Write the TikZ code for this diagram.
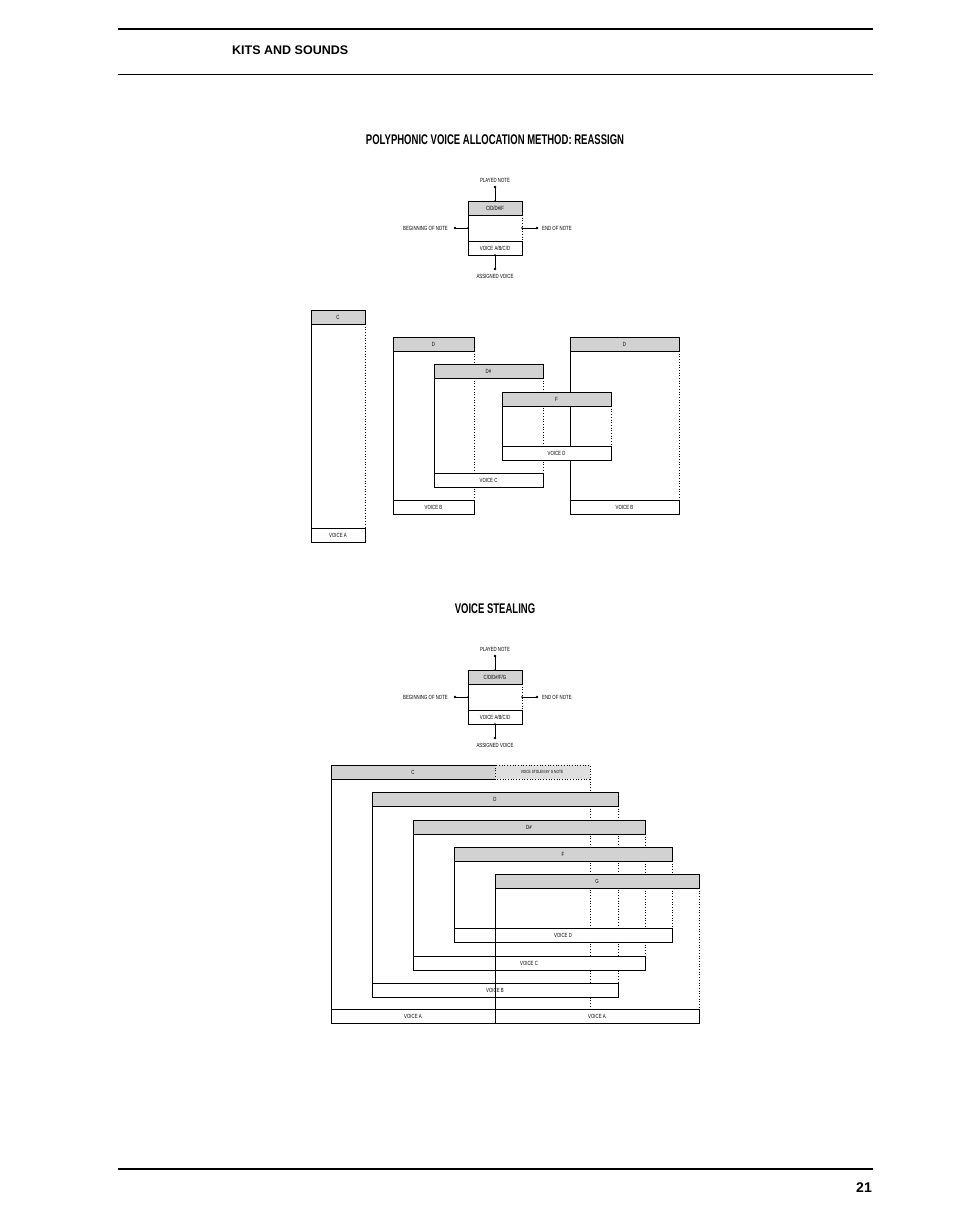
\documentclass[tikz,border=0pt]{standalone}
\usepackage{fontspec}
\setmainfont{Liberation Sans}
\definecolor{hd}{HTML}{D2D2D2}
\tikzset{
 ln/.style={line width=0.7pt,black},
 dt/.style={line width=0.7pt,black,dotted},
 lbl/.style={inner sep=0pt,font=\fontsize{6}{6}\selectfont,xscale=0.72},
 ttl/.style={inner sep=0pt,font=\bfseries\fontsize{14}{14}\selectfont,xscale=0.68},
}
\newcommand\notebox[7]{%
 \draw[ln] (#2,#4) -- (#2,#5);
 \draw[dt] (#3,#4+14) -- (#3,#5-14);
 \draw[ln,fill=hd] (#2,#4) rectangle (#3,#4+14);
 \draw[ln,fill=white] (#2,#5-14) rectangle (#3,#5);
 \node[lbl] (#1h) at ({(#2+#3)/2},#4+7) {#6};
 \node[lbl] (#1f) at ({(#2+#3)/2},#5-7) {#7};}
\newcommand\legend[4]{% name ytop header footer  (box 468-522, height 54)
 \notebox{#1}{468}{522}{#2}{#2+54}{#3}{#4}
 \coordinate (#1u) at (495,#2-14); \coordinate (#1d) at (495,#2+68);
 \coordinate (#1l) at (455,#2+27); \coordinate (#1r) at (537,#2+27);
 \draw[ln] (495,#2) -- (#1u); \draw[ln] (495,#2+54) -- (#1d);
 \draw[ln] (468,#2+27) -- (#1l); \draw[ln] (522,#2+27) -- (#1r);
 \foreach \p in {#1u,#1d,#1l,#1r} \fill (\p) circle (1.3);
 \fill (495,#2) circle (0.9); \fill (495,#2+54) circle (0.9);
 \fill (468,#2+27) circle (0.9); \fill (522,#2+27) circle (0.9);
 \node[lbl,above=4pt] at (#1u) {PLAYED NOTE};
 \node[lbl,below=5pt] at (#1d) {ASSIGNED VOICE};
 \node[lbl,anchor=east] at (448,#2+27) {BEGINNING OF NOTE};
 \node[lbl,anchor=west] at (542,#2+27) {END OF NOTE};}
\begin{document}
\begin{tikzpicture}[x=1pt,y=-1pt]
\useasboundingbox (0,0) rectangle (954,1227);
\draw[line width=1.3pt] (118,29) -- (873,29);
\draw[line width=0.6pt] (118,74) -- (873,74);
\node[anchor=west,inner sep=0pt,font=\bfseries\fontsize{12.5}{12.5}\selectfont] (hdr) at (232,50) {KITS AND SOUNDS};
\draw[line width=1.3pt] (118,1169) -- (873,1169);
\node[anchor=east,inner sep=0pt,font=\bfseries\fontsize{14}{14}\selectfont] (pg) at (872,1188) {21};
\node[ttl] (t1) at (495,140) {POLYPHONIC VOICE ALLOCATION METHOD: REASSIGN};
\node[ttl] (t2) at (495,609) {VOICE STEALING};
\legend{lg1}{201}{C/D/D\#/F}{VOICE A/B/C/D}
\legend{lg2}{670}{C/D/D\#/F/G}{VOICE A/B/C/D}
% diagram 1
\notebox{a}{311}{365}{310}{542}{C}{VOICE A}
\notebox{b}{393}{474}{337}{514}{D}{VOICE B}
\notebox{c}{434}{543}{364}{487}{D\#}{VOICE C}
\notebox{e}{570}{679}{337}{514}{D}{VOICE B}
\notebox{d}{502}{611}{392}{460}{F}{VOICE D}
% diagram 2
\draw[ln] (331,765) -- (331,1023);
\draw[dt] (590,779) -- (590,1010);
\draw[ln,fill=hd] (331,765) rectangle (495,779);
\draw[dt,fill=hd!70] (495,765) rectangle (590,779);
\draw[ln,fill=white] (331,1009) rectangle (495,1023);
\node[lbl] (sch) at (413,772) {C};
\node[lbl,font=\fontsize{4.5}{4.5}\selectfont] (ssl) at (542,772) {VOICE STOLEN BY G NOTE};
\node[lbl] (scf) at (413,1016) {VOICE A};
\notebox{sd}{372}{618}{792}{997}{D}{VOICE B}
\notebox{sds}{413}{645}{820}{970}{D\#}{VOICE C}
\notebox{sf}{454}{672}{847}{942}{F}{VOICE D}
\notebox{sg}{495}{699}{874}{1023}{G}{VOICE A}
\end{tikzpicture}
\end{document}
